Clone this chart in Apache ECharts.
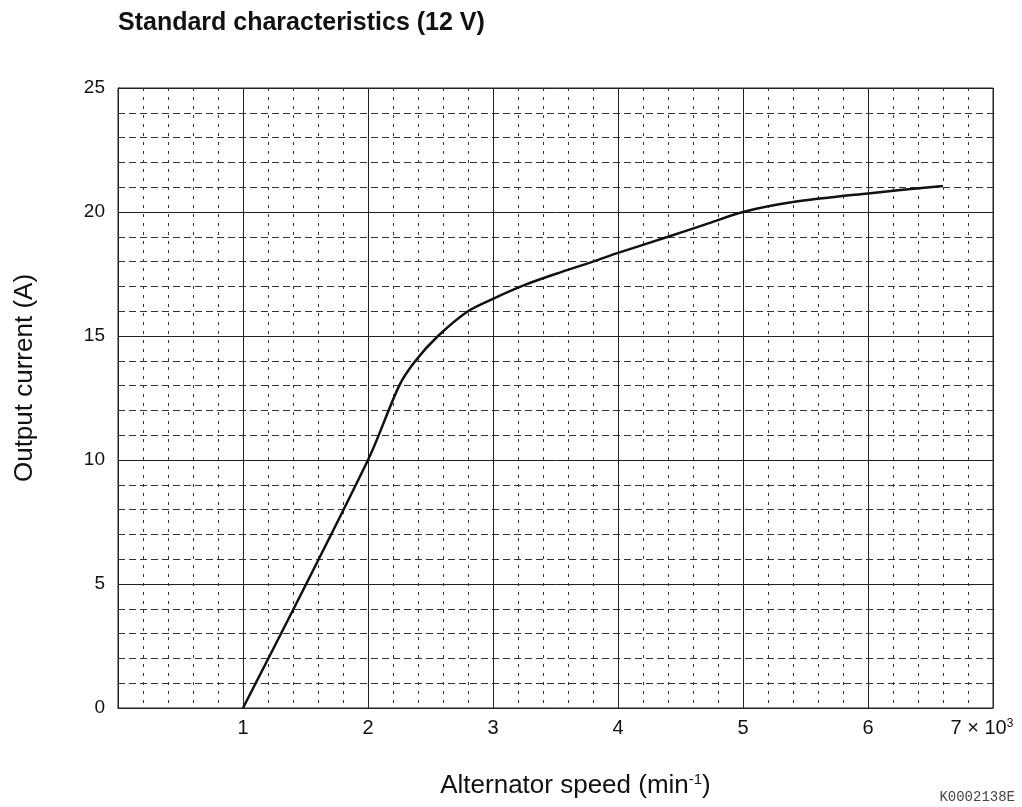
<!DOCTYPE html>
<html>
<head>
<meta charset="utf-8">
<title>Standard characteristics (12 V)</title>
<script src="https://cdn.jsdelivr.net/npm/echarts@6/dist/echarts.min.js"></script>
<style>
  html, body { margin: 0; padding: 0; background: #fff; }
  #chart { width: 1022px; height: 807px; }
</style>
</head>
<body>
<div id="chart"></div>
<script>
// Alternator speed (x 1000 min^-1) and output current (A)
const speed = [1, 2, 2.25, 2.38, 2.56, 2.8, 3, 3.25, 3.5, 3.8, 4, 4.4, 4.7, 5, 5.4, 6, 6.6]
const current = [0, 10, 13, 14, 15, 16, 16.5, 17.05, 17.5, 18, 18.35, 19, 19.5, 20, 20.4, 20.75, 21.05]

const xTicks = [0, 1, 2, 3, 4, 5, 6, 7]
const yTicks = [0, 5, 10, 15, 20, 25]

const chart = echarts.init(document.getElementById('chart'), null, { renderer: 'canvas' })

const font = 'Liberation Sans, Arial, sans-serif'

const option = {
  backgroundColor: '#fff',
  animation: false,
  textStyle: { fontFamily: font },
  title: {
    text: 'Standard characteristics (12 V)',
    left: 113,
    top: 6,
    textStyle: { fontFamily: font, fontSize: 25, fontWeight: 'bold', color: '#111' }
  },
  grid: {
    left: 118,
    top: 88,
    right: 29,
    bottom: 99,
    show: true,
    borderColor: '#222',
    borderWidth: 1
  },
  xAxis: {
    type: 'value',
    min: xTicks[0],
    max: xTicks[xTicks.length - 1],
    interval: 1,
    name: '{n|Alternator speed (min}{s|-1}{n|)}',
    nameLocation: 'middle',
    nameGap: 64,
    nameTextStyle: {
      padding: [0, 0, 0, 40],
      rich: {
        n: { fontFamily: font, fontSize: 26, color: '#111' },
        s: { fontFamily: font, fontSize: 15, color: '#111', verticalAlign: 'top', padding: [0, 0, 12, 0] }
      }
    },
    axisLine: { show: true, lineStyle: { color: '#222', width: 1 } },
    axisTick: { show: false },
    axisLabel: {
      margin: 10,
      formatter: (v) => {
        if (v === 0) return ''
        if (v === 7) return '{n|7 × 10}{e|3}'
        return '{n|' + v + '}'
      },
      rich: {
        n: { fontFamily: font, fontSize: 20, color: '#111' },
        e: { fontFamily: font, fontSize: 12, color: '#111', verticalAlign: 'top', padding: [0, 22, 9, 0] }
      }
    },
    splitLine: { show: true, lineStyle: { color: '#222', width: 1 } },
    minorTick: { show: false, splitNumber: 5 },
    minorSplitLine: { show: true, lineStyle: { color: '#333', width: 1, type: [3, 6] } }
  },
  yAxis: {
    type: 'value',
    min: yTicks[0],
    max: yTicks[yTicks.length - 1],
    interval: 5,
    name: 'Output current (A)',
    nameLocation: 'middle',
    nameGap: 80,
    nameTextStyle: { fontFamily: font, fontSize: 26, color: '#111', padding: [0, 0, 0, 40] },
    axisLine: { show: true, lineStyle: { color: '#222', width: 1 } },
    axisTick: { show: false },
    axisLabel: { margin: 13, fontFamily: font, fontSize: 19, color: '#111' },
    splitLine: { show: true, lineStyle: { color: '#222', width: 1 } },
    minorTick: { show: false, splitNumber: 5 },
    minorSplitLine: { show: true, lineStyle: { color: '#333', width: 1, type: [7, 4] } }
  },
  series: [{
    type: 'line',
    data: speed.map((s, i) => [s, current[i]]),
    showSymbol: false,
    smooth: 0.3,
    lineStyle: { color: '#111', width: 2.5 },
    z: 5
  }],
  graphic: [{
    type: 'text',
    right: 7,
    bottom: 3,
    style: {
      text: 'K0002138E',
      fontFamily: 'Liberation Mono, DejaVu Sans Mono, monospace',
      fontSize: 14,
      fill: '#444'
    }
  }]
}

chart.setOption(option)
</script>
</body>
</html>
